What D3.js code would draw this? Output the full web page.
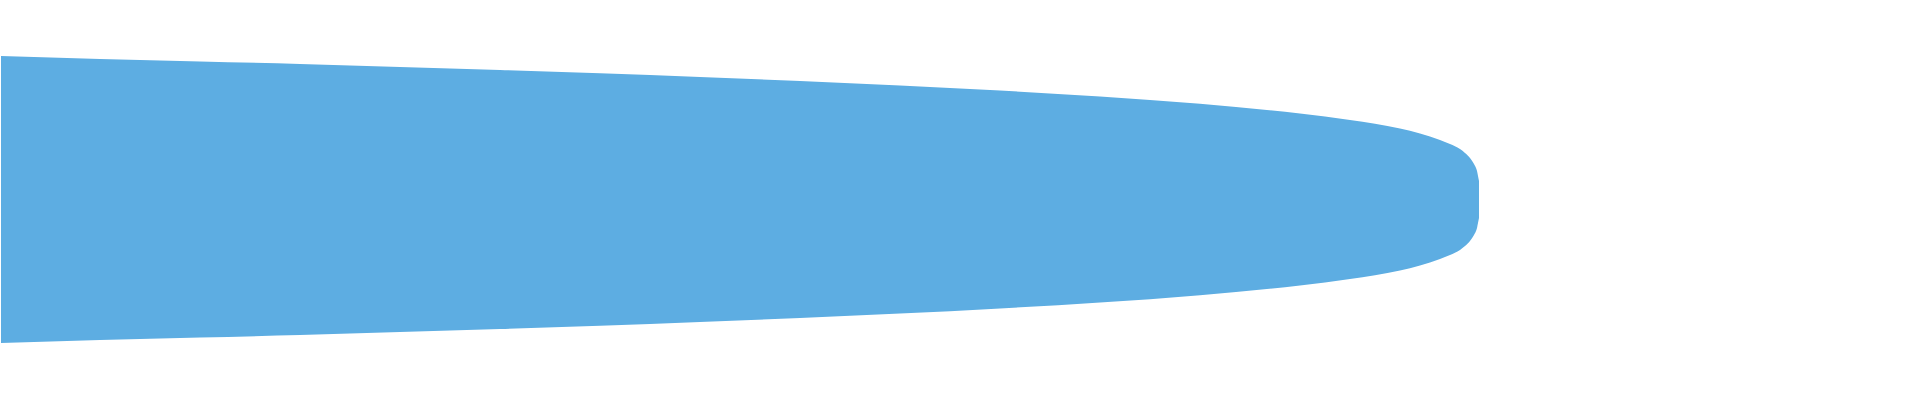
<!DOCTYPE html>
<html>
<head>
<meta charset="utf-8">
<script src="https://cdn.jsdelivr.net/npm/d3@7"></script>
<style>
  html, body { margin: 0; padding: 0; background: #ffffff; }
  svg { display: block; }
</style>
</head>
<body>
<div id="chart"></div>
<script>
// sample positions along the value axis
let positions = [0.1, 10, 20, 30, 40, 50, 60, 70, 80, 90, 100, 110, 120, 130, 135, 140, 142, 144, 145, 146, 146.5, 147, 147.4, 147.6, 147.7, 147.8, 147.9]

// half-width (density) at each position
let density = [1.435, 1.405, 1.38, 1.355, 1.325, 1.295, 1.262, 1.225, 1.185, 1.141, 1.09, 1.03, 0.957, 0.86, 0.795, 0.71, 0.66, 0.595, 0.555, 0.505, 0.465, 0.415, 0.355, 0.315, 0.285, 0.235, 0.185]

let w = 1920
let h = 400

let data = positions.map((p, i) => ({ pos: p, d: density[i] }))

let x = d3.scaleLinear()
    .domain([0, 192])
    .range([0, w])

let y = d3.scaleLinear()
    .domain([-2, 2])
    .range([h - 0.5, -0.5])

let svg = d3
    .select('#chart')
    .append('svg')
    .attr('width', w)
    .attr('height', h)

// the violin body, mirrored around zero
let area = d3.area()
    .x(d => x(d.pos))
    .y0(d => y(-d.d))
    .y1(d => y(d.d))
    .curve(d3.curveMonotoneX)

svg
    .append('path')
    .datum(data)
    .attr('d', area)
    .attr('fill', '#5dade2')
</script>
</body>
</html>
